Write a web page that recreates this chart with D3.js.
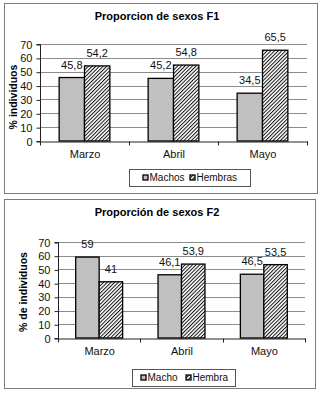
<!DOCTYPE html>
<html>
<head>
<meta charset="utf-8">
<script src="https://cdn.jsdelivr.net/npm/d3@7"></script>
<style>
  body { margin: 0; background: #fff; }
  svg { display: block; font-family: "Liberation Sans", Arial, sans-serif; }
</style>
</head>
<body>
<div id="container"></div>
<script>
// data
const months = ["Marzo", "Abril", "Mayo"];
const f1Machos = [45.8, 45.2, 34.5];
const f1Hembras = [54.2, 54.8, 65.5];
const f2Machos = [59, 46.1, 46.5];
const f2Hembras = [41, 53.9, 53.5];
const yTicks = [0, 10, 20, 30, 40, 50, 60, 70];

const width = 324, height = 393;

const svg = d3.select("#container").append("svg")
  .attr("width", width)
  .attr("height", height);

// hatch pattern for females
const defs = svg.append("defs");
defs.append("pattern")
  .attr("id", "hatch")
  .attr("patternUnits", "userSpaceOnUse")
  .attr("width", 2.6)
  .attr("height", 2.6)
  .attr("patternTransform", "rotate(45)")
  .call(p => {
    p.append("rect").attr("width", 2.6).attr("height", 2.6).attr("fill", "#fff");
    p.append("line").attr("x1", 0.5).attr("y1", 0).attr("x2", 0.5).attr("y2", 2.6)
      .attr("stroke", "#111").attr("stroke-width", 1);
  });

const fmt = v => String(v).replace(".", ",");

function drawChart(cfg) {
  const g = svg.append("g");

  // outer frame
  g.append("rect")
    .attr("x", cfg.frame[0] + 0.5).attr("y", cfg.frame[1] + 0.5)
    .attr("width", cfg.frame[2] - cfg.frame[0]).attr("height", cfg.frame[3] - cfg.frame[1])
    .attr("fill", "#fff").attr("stroke", "#7a7a7a");

  g.append("text")
    .attr("x", cfg.titleX).attr("y", cfg.titleY)
    .attr("text-anchor", "middle")
    .style("font-size", "11px").style("font-weight", "bold")
    .text(cfg.title);

  const x = d3.scaleBand().domain(months).range([cfg.left, cfg.right]);
  const xs = d3.scaleBand().domain(["m", "h"])
    .range([x.bandwidth() * 0.215, x.bandwidth() * 0.785]);
  const y = d3.scaleLinear().domain([0, 70]).range([cfg.bottom, cfg.top]);

  // gridlines
  g.append("g").selectAll("line")
    .data(yTicks.slice(1))
    .join("line")
    .attr("x1", cfg.left).attr("x2", cfg.right)
    .attr("y1", d => Math.round(y(d)) + 0.5).attr("y2", d => Math.round(y(d)) + 0.5)
    .attr("stroke", "#8c8c8c");

  // y axis
  const yAxis = g.append("g")
    .attr("transform", `translate(${cfg.left + 0.5},0.5)`)
    .call(d3.axisLeft(y).tickValues(yTicks).tickSize(4).tickPadding(4));
  yAxis.select(".domain").attr("stroke", "#222").attr("d", `M-4,${cfg.bottom}H0V${cfg.top}H-4`);
  yAxis.selectAll(".tick line").attr("stroke", "#222");
  yAxis.selectAll(".tick text").attr("fill", "#111")
    .style("font-size", "11px").style("font-family", "Liberation Sans, Arial, sans-serif");

  // x axis
  const xAxis = g.append("g")
    .attr("transform", `translate(0.5,${cfg.bottom + 0.5})`)
    .call(d3.axisBottom(x).tickSize(0).tickPadding(9));
  xAxis.select(".domain").attr("stroke", "#222");
  xAxis.selectAll(".tick text").attr("fill", "#111")
    .style("font-size", "11px").style("font-family", "Liberation Sans, Arial, sans-serif");
  // category boundary ticks
  xAxis.append("g").selectAll("line")
    .data(months.map(m => x(m)).concat([cfg.right]))
    .join("line")
    .attr("x1", d => Math.round(d)).attr("x2", d => Math.round(d))
    .attr("y1", 0).attr("y2", 4)
    .attr("stroke", "#222");

  // bars
  const rows = months.map((m, i) => ({ m, vals: [
    { k: "m", v: cfg.machos[i] },
    { k: "h", v: cfg.hembras[i] }
  ]}));

  const grp = g.append("g").selectAll("g")
    .data(rows)
    .join("g")
    .attr("transform", d => `translate(${x(d.m)},0)`);

  grp.selectAll("rect")
    .data(d => d.vals)
    .join("rect")
    .attr("x", d => xs(d.k))
    .attr("y", d => y(d.v))
    .attr("width", xs.bandwidth())
    .attr("height", d => y(0) - y(d.v))
    .attr("fill", d => d.k === "m" ? "#c0c0c0" : "url(#hatch)")
    .attr("stroke", "#000")
    .attr("stroke-width", 1.3);

  grp.selectAll("text")
    .data(d => d.vals)
    .join("text")
    .attr("x", d => xs(d.k) + xs.bandwidth() / 2)
    .attr("y", d => y(d.v) - 9)
    .attr("text-anchor", "middle")
    .style("font-size", "11px")
    .attr("fill", "#111")
    .text(d => fmt(d.v));

  // y axis title
  g.append("text")
    .attr("transform", `translate(${cfg.yTitleX},${cfg.yTitleY}) rotate(-90)`)
    .attr("text-anchor", "middle")
    .attr("dy", "0.35em")
    .style("font-size", "10.5px").style("font-weight", "bold")
    .text(cfg.yTitle);

  // legend
  const lb = cfg.legend;
  const leg = g.append("g");
  leg.append("rect")
    .attr("x", lb[0] + 0.5).attr("y", lb[1] + 0.5)
    .attr("width", lb[2] - lb[0]).attr("height", lb[3] - lb[1])
    .attr("fill", "#fff").attr("stroke", "#555");
  const cy = (lb[1] + lb[3]) / 2;
  const items = leg.selectAll("g.item")
    .data(cfg.legendNames)
    .join("g")
    .attr("class", "item")
    .attr("transform", (d, i) => `translate(${cfg.legendX[i]},${cy})`);
  items.append("rect")
    .attr("x", 0).attr("y", -2.5).attr("width", 5).attr("height", 5)
    .attr("fill", (d, i) => i === 0 ? "#c0c0c0" : "url(#hatch)")
    .attr("stroke", "#000").attr("stroke-width", 1.3);
  items.append("text")
    .attr("x", 6.5).attr("dy", "0.35em")
    .style("font-size", "10px")
    .attr("fill", "#111")
    .text(d => d);
}

drawChart({
  title: "Proporcion de sexos F1",
  yTitle: "% individuos",
  machos: f1Machos, hembras: f1Hembras,
  legendNames: ["Machos", "Hembras"],
  frame: [4, 3, 317, 193],
  titleX: 157, titleY: 20,
  left: 40, right: 307, top: 44, bottom: 141,
  yTitleX: 13, yTitleY: 97,
  legend: [129, 169, 250, 186],
  legendX: [143, 190]
});

drawChart({
  title: "Proporción de sexos F2",
  yTitle: "% de individuos",
  machos: f2Machos, hembras: f2Hembras,
  legendNames: ["Macho", "Hembra"],
  frame: [4, 199, 315, 388],
  titleX: 157, titleY: 216,
  left: 58, right: 305, top: 242, bottom: 338,
  yTitleX: 23, yTitleY: 292,
  legend: [132, 369, 235, 386],
  legendX: [141, 186]
});
</script>
</body>
</html>
